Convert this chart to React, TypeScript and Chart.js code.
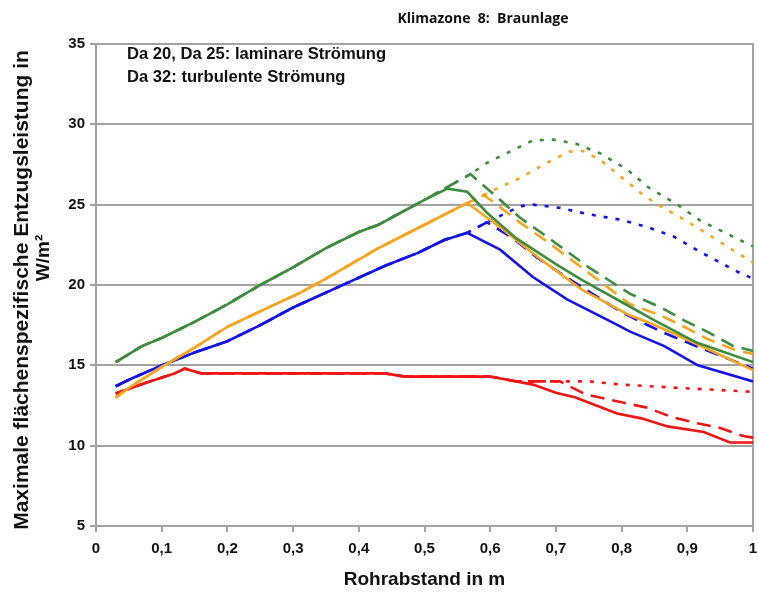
import { useEffect, useRef } from "react";
import { Chart, registerables } from "chart.js";

Chart.register(...registerables);

type Pt = [number, number];

// Rohrabstand (m) / Entzugsleistung (W/m²) – gemeinsamer Anstieg je Farbe
const gruenAnstieg: Pt[] = [
  [0.03, 15.2], [0.05, 15.7], [0.07, 16.2], [0.1, 16.7], [0.15, 17.7], [0.2, 18.8],
  [0.25, 20.0], [0.3, 21.1], [0.35, 22.3], [0.4, 23.3], [0.43, 23.75], [0.5, 25.3],
];
const gruenDa20: Pt[] = [
  [0.535, 26.0], [0.565, 25.8], [0.595, 24.5], [0.64, 22.9], [0.7, 21.3], [0.74, 20.3],
  [0.815, 18.6], [0.85, 17.8], [0.915, 16.4], [1.0, 15.2],
];
const gruenDa25: Pt[] = [
  [0.535, 26.1], [0.57, 26.9], [0.615, 25.3], [0.645, 24.2], [0.69, 22.9], [0.75, 21.1],
  [0.813, 19.45], [0.86, 18.6], [0.895, 17.8], [0.93, 17.1], [0.97, 16.2], [1.0, 15.9],
];
const gruenDa32: Pt[] = [
  [0.535, 26.1], [0.57, 26.9], [0.595, 27.6], [0.625, 28.2], [0.665, 29.0], [0.695, 29.05],
  [0.73, 28.8], [0.767, 28.2], [0.808, 27.2], [0.84, 26.1], [0.885, 25.0], [0.92, 24.0],
  [0.96, 23.2], [1.0, 22.4],
];

const orangeAnstieg: Pt[] = [
  [0.03, 13.0], [0.05, 13.6], [0.1, 14.9], [0.15, 16.1], [0.2, 17.4], [0.27, 18.75],
  [0.31, 19.5], [0.35, 20.4], [0.43, 22.3], [0.5, 23.75],
];
const orangeDa20: Pt[] = [
  [0.565, 25.1], [0.615, 23.6], [0.68, 21.5], [0.74, 19.7], [0.813, 18.1], [0.845, 17.6],
  [0.905, 16.5], [1.0, 14.7],
];
const orangeDa25: Pt[] = [
  [0.565, 25.1], [0.59, 25.6], [0.615, 24.85], [0.645, 23.9], [0.69, 22.6], [0.75, 20.75],
  [0.813, 18.8], [0.86, 18.1], [0.895, 17.4], [0.93, 16.65], [0.97, 16.0], [1.0, 15.7],
];
const orangeDa32: Pt[] = [
  [0.565, 25.1], [0.59, 25.6], [0.615, 26.1], [0.645, 26.65], [0.686, 27.6], [0.72, 28.3],
  [0.74, 28.35], [0.767, 27.8], [0.8, 26.7], [0.833, 25.6], [0.855, 25.0], [0.89, 24.2],
  [0.93, 23.2], [0.968, 22.2], [1.0, 21.4],
];

const blauAnstieg: Pt[] = [
  [0.03, 13.7], [0.05, 14.1], [0.1, 15.0], [0.15, 15.8], [0.2, 16.5], [0.25, 17.5],
  [0.3, 18.6], [0.37, 19.9], [0.44, 21.2], [0.49, 22.0], [0.53, 22.8],
];
const blauDa20: Pt[] = [
  [0.565, 23.25], [0.615, 22.2], [0.665, 20.5], [0.717, 19.1], [0.78, 17.8], [0.813, 17.1],
  [0.865, 16.2], [0.916, 15.0], [1.0, 14.0],
];
const blauDa25: Pt[] = [
  [0.565, 23.25], [0.595, 23.9], [0.635, 22.9], [0.67, 21.75], [0.706, 20.75], [0.8, 18.3],
  [0.86, 17.1], [0.925, 16.0], [1.0, 14.8],
];
const blauDa32: Pt[] = [
  [0.565, 23.25], [0.595, 23.9], [0.625, 24.5], [0.645, 24.9], [0.665, 25.0], [0.706, 24.8],
  [0.75, 24.4], [0.8, 24.05], [0.84, 23.6], [0.88, 23.0], [0.92, 22.05], [0.95, 21.4],
  [0.98, 20.75], [1.0, 20.4],
];

const rotAnstieg: Pt[] = [
  [0.03, 13.25], [0.075, 13.9], [0.12, 14.5], [0.135, 14.8], [0.16, 14.5], [0.2, 14.5],
  [0.3, 14.5], [0.44, 14.5], [0.47, 14.3], [0.6, 14.3],
];
const rotDa20: Pt[] = [
  [0.665, 13.8], [0.7, 13.3], [0.73, 13.0], [0.793, 12.0], [0.83, 11.7], [0.87, 11.2],
  [0.925, 10.85], [0.965, 10.2], [1.0, 10.2],
];
const rotDa25: Pt[] = [
  [0.64, 14.0], [0.706, 14.0], [0.745, 13.2], [0.8, 12.7], [0.84, 12.35], [0.875, 11.8],
  [0.915, 11.4], [0.95, 11.1], [0.985, 10.6], [1.0, 10.5],
];
const rotDa32: Pt[] = [
  [0.64, 14.0], [0.75, 14.0], [0.8, 13.8], [0.885, 13.6], [1.0, 13.35],
];

const xTicks = [0, 0.1, 0.2, 0.3, 0.4, 0.5, 0.6, 0.7, 0.8, 0.9, 1];
const yTicks = [5, 10, 15, 20, 25, 30, 35];

const titel = "Klimazone  8:  Braunlage";
const hinweise = ["Da 20, Da 25: laminare Strömung", "Da 32: turbulente Strömung"];
const yTitel = ["Maximale flächenspezifische Entzugsleistung in", "W/m²"];
const xTitel = "Rohrabstand in m";

const FARBEN = {
  gruen: "#3f8c3f",
  orange: "#f7a520",
  blau: "#1414e6",
  rot: "#ee1515",
};
const GRAU = "#a3a3a3";
const ARIAL = "'Liberation Sans', Arial, sans-serif";

const STRICH: Record<string, number[]> = {
  durchgezogen: [],
  gestrichelt: [14, 8],
  gepunktet: [4, 8],
};

function serie(label: string, farbe: string, art: string, punkte: Pt[]) {
  return {
    label,
    data: punkte.map(([x, y]) => ({ x, y })),
    borderColor: farbe,
    backgroundColor: farbe,
    borderWidth: 2.6,
    borderDash: STRICH[art],
    showLine: true,
    pointRadius: 0,
    tension: 0,
    fill: false,
  };
}

const texte = {
  id: "texte",
  beforeDatasetsDraw(chart: any) {
    const { ctx, chartArea: a } = chart;
    ctx.save();
    ctx.strokeStyle = GRAU;
    ctx.lineWidth = 2;
    ctx.beginPath();
    ctx.moveTo(a.left, a.top);
    ctx.lineTo(a.right, a.top);
    ctx.lineTo(a.right, a.bottom);
    ctx.stroke();
    ctx.restore();
  },
  afterDraw(chart: any) {
    const { ctx } = chart;
    ctx.save();
    ctx.fillStyle = "#111";
    ctx.textBaseline = "middle";
    ctx.textAlign = "center";
    ctx.font = "bold 14px 'Open Sans', sans-serif";
    ctx.fillText(titel, 483, 19);

    ctx.textAlign = "left";
    ctx.font = `bold 16.6px ${ARIAL}`;
    ctx.fillText(hinweise[0], 127, 54);
    ctx.fillText(hinweise[1], 127, 77);

    ctx.textAlign = "center";
    ctx.translate(22, 290);
    ctx.rotate(-Math.PI / 2);
    ctx.font = `bold 21px ${ARIAL}`;
    ctx.fillText(yTitel[0], 0, 0);
    ctx.font = `bold 19px ${ARIAL}`;
    ctx.fillText(yTitel[1], 32, 22);
    ctx.restore();
  },
};

export default function App() {
  const ref = useRef<HTMLCanvasElement | null>(null);

  useEffect(() => {
    if (!ref.current) return;
    const chart = new Chart(ref.current, {
      type: "scatter",
      data: {
        datasets: [
          serie("Grün Da 20", FARBEN.gruen, "durchgezogen", [...gruenAnstieg, ...gruenDa20]),
          serie("Grün Da 25", FARBEN.gruen, "gestrichelt", [...gruenAnstieg, ...gruenDa25]),
          serie("Grün Da 32", FARBEN.gruen, "gepunktet", [...gruenAnstieg, ...gruenDa32]),
          serie("Orange Da 20", FARBEN.orange, "durchgezogen", [...orangeAnstieg, ...orangeDa20]),
          serie("Orange Da 25", FARBEN.orange, "gestrichelt", [...orangeAnstieg, ...orangeDa25]),
          serie("Orange Da 32", FARBEN.orange, "gepunktet", [...orangeAnstieg, ...orangeDa32]),
          serie("Blau Da 20", FARBEN.blau, "durchgezogen", [...blauAnstieg, ...blauDa20]),
          serie("Blau Da 25", FARBEN.blau, "gestrichelt", [...blauAnstieg, ...blauDa25]),
          serie("Blau Da 32", FARBEN.blau, "gepunktet", [...blauAnstieg, ...blauDa32]),
          serie("Rot Da 20", FARBEN.rot, "durchgezogen", [...rotAnstieg, ...rotDa20]),
          serie("Rot Da 25", FARBEN.rot, "gestrichelt", [...rotAnstieg, ...rotDa25]),
          serie("Rot Da 32", FARBEN.rot, "gepunktet", [...rotAnstieg, ...rotDa32]),
        ],
      },
      options: {
        animation: false,
        responsive: false,
        events: [],
        layout: { padding: { top: 44, left: 0, right: 5, bottom: 0 } },
        plugins: {
          legend: { display: false },
          tooltip: { enabled: false },
          title: { display: false },
        },
        scales: {
          x: {
            type: "linear",
            min: 0,
            max: 1,
            afterFit: (s: any) => {
              s.height = 73;
              s.paddingLeft = 0;
              s.paddingRight = 0;
            },
            afterBuildTicks: (s: any) => {
              s.ticks = xTicks.map((v) => ({ value: v }));
            },
            ticks: {
              color: "#111",
              font: { family: ARIAL, size: 15, weight: "bold" },
              padding: 8,
              maxRotation: 0,
              callback: (v: any) => String(v).replace(".", ","),
            },
            grid: {
              drawOnChartArea: false,
              drawTicks: true,
              tickLength: 6,
              color: GRAU,
              lineWidth: 2,
            },
            border: { color: GRAU, width: 2 },
            title: {
              display: true,
              text: xTitel,
              color: "#111",
              font: { family: ARIAL, size: 19, weight: "bold" },
              padding: { top: 0, bottom: 8 },
            },
          },
          y: {
            type: "linear",
            min: 5,
            max: 35,
            afterFit: (s: any) => {
              s.width = 96;
              s.paddingTop = 0;
              s.paddingBottom = 0;
            },
            afterBuildTicks: (s: any) => {
              s.ticks = yTicks.map((v) => ({ value: v }));
            },
            ticks: {
              color: "#111",
              font: { family: ARIAL, size: 15, weight: "bold" },
              padding: 5,
            },
            grid: {
              drawTicks: true,
              tickLength: 6,
              color: GRAU,
              lineWidth: 2,
            },
            border: { color: GRAU, width: 2 },
          },
        },
      },
      plugins: [texte],
    } as any);
    return () => chart.destroy();
  }, []);

  return (
    <div style={{ position: "absolute", left: 0, top: 0, width: 758, height: 599, background: "#fff" }}>
      <canvas ref={ref} width={758} height={599} />
    </div>
  );
}
